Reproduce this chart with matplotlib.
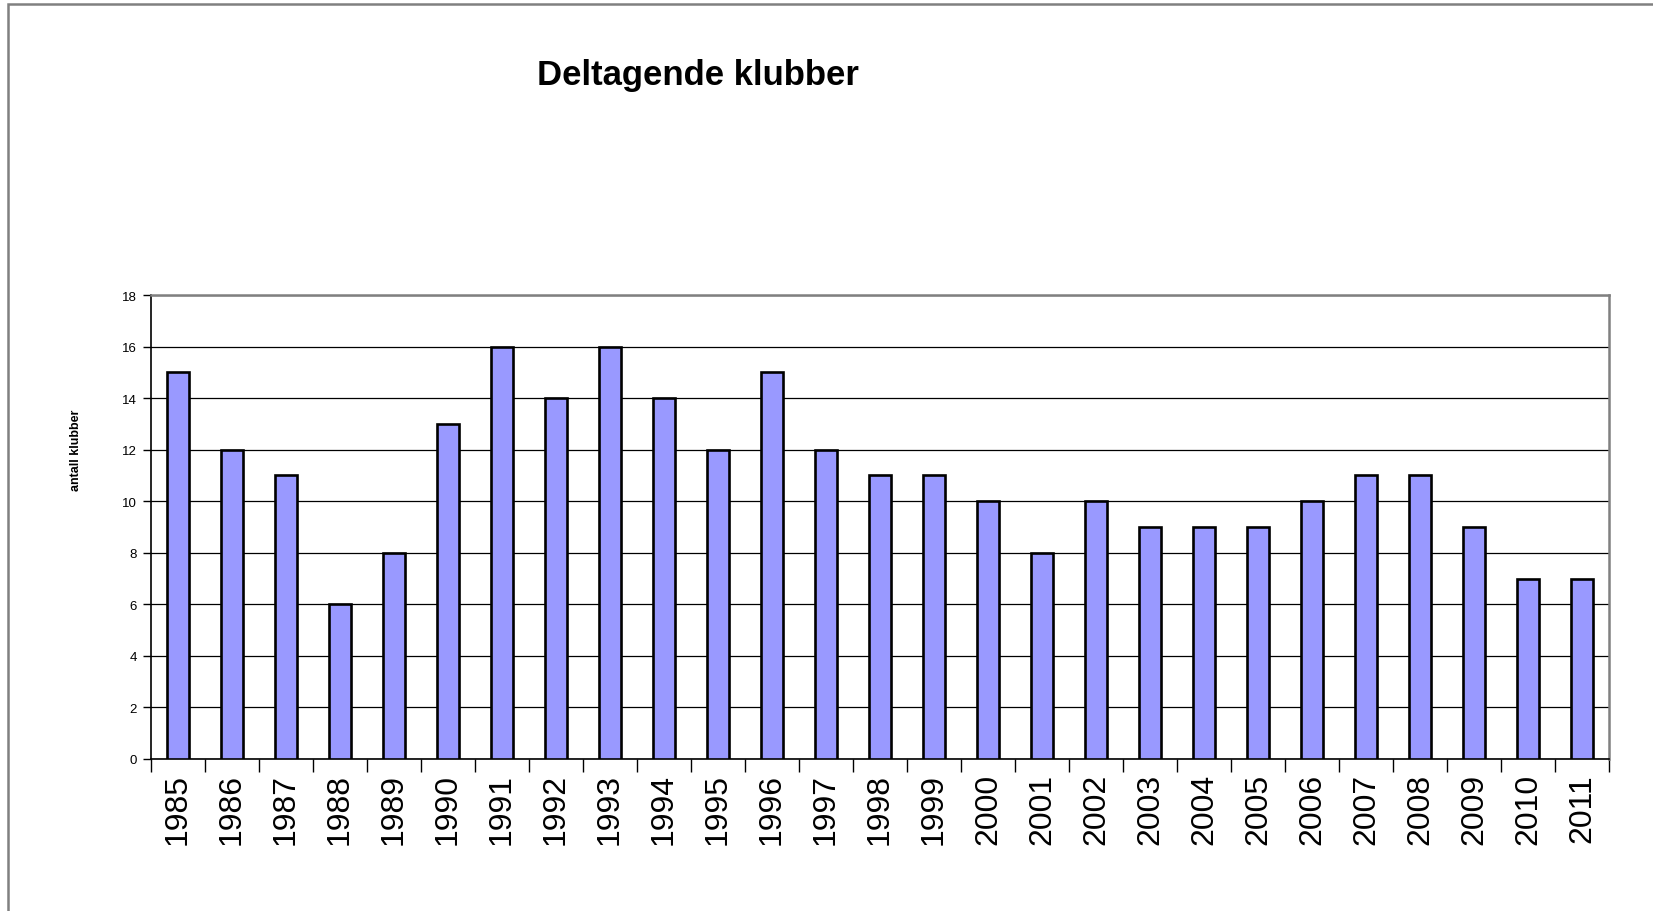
import matplotlib.pyplot as plt
import numpy as np
from matplotlib.patches import Rectangle

plt.rcParams['font.family'] = ['Liberation Sans', 'DejaVu Sans']

aar = [str(a) for a in range(1985, 2012)]
klubber = [15, 12, 11, 6, 8, 13, 16, 14, 16, 14, 12, 15, 12, 11, 11, 10,
           8, 10, 9, 9, 9, 10, 11, 11, 9, 7, 7]

W, H = 1653, 912
fig = plt.figure(figsize=(W / 100, H / 100), dpi=100)

# plottområde i pikselkoordinater
x0, x1 = 151, 1609
y0, y1 = 296, 760
ax = fig.add_axes([x0 / W, 1 - y1 / H, (x1 - x0) / W, (y1 - y0) / H])

x = np.arange(len(aar))
ax.bar(x, klubber, width=0.4, color='#9999FF', edgecolor='black', linewidth=1.9, zorder=3)

ax.set_xlim(-0.5, len(aar) - 0.5)
ax.set_ylim(0, 18)
ax.set_yticks(range(0, 19, 2))
ax.yaxis.grid(True, color='black', linewidth=0.9, zorder=0)

ax.set_xticks(x)
ax.set_xticklabels(aar, rotation=90, fontsize=23)
ax.tick_params(axis='x', which='major', length=0, pad=10)
ax.set_xticks(np.arange(-0.5, len(aar), 1), minor=True)
ax.tick_params(axis='x', which='minor', length=9, width=1, direction='out')
ax.tick_params(axis='y', labelsize=9.5, length=6, width=1, direction='out', pad=4)

for s in ['left', 'bottom']:
    ax.spines[s].set_color('black')
    ax.spines[s].set_linewidth(1.2)
for s in ['top', 'right']:
    ax.spines[s].set_color('#808080')
    ax.spines[s].set_linewidth(1.8)

fig.text(76 / W, 1 - 450 / H, 'antall klubber', rotation=90, fontsize=9,
         fontweight='bold', ha='center', va='center')
fig.text(698 / W, 1 - 75 / H, 'Deltagende klubber', fontsize=25,
         fontweight='bold', ha='center', va='center')

# ytre ramme
fig.patches.append(Rectangle((8 / W, -0.1), 1.2, 1 - 5 / H + 0.1, transform=fig.transFigure,
                             fill=False, edgecolor='#808080', linewidth=1.8))

fig.savefig('out.png', dpi=100)
